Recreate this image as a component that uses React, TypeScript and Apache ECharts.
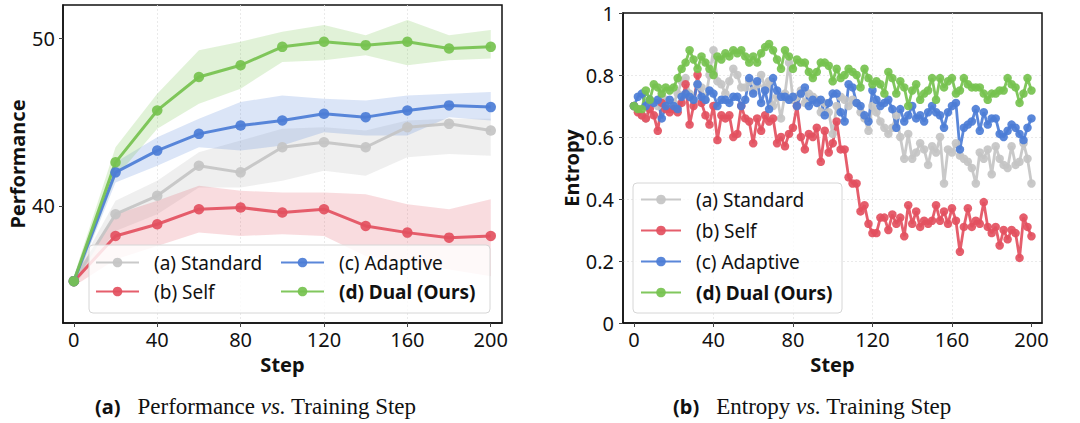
import React, { useEffect, useRef } from 'react';
import * as echarts from 'echarts';

// ---------- (a) Performance vs. Training Step ----------
const perfSteps = [0, 20, 40, 60, 80, 100, 120, 140, 160, 180, 200];
const perfTicksX = [0, 40, 80, 120, 160, 200];
const perfTicksY = [40, 50];

const stdPerf = [35.5, 39.5, 40.6, 42.4, 42.0, 43.5, 43.8, 43.5, 44.7, 44.9, 44.5];
const stdLo = [35.2, 38.5, 39.5, 41.1, 41.1, 41.5, 42.1, 41.8, 42.9, 43.1, 43.0];
const stdHi = [35.8, 40.3, 41.5, 43.2, 43.9, 44.6, 44.7, 44.5, 45.1, 45.2, 45.2];

const selfPerf = [35.5, 38.2, 38.9, 39.8, 39.9, 39.6, 39.8, 38.8, 38.4, 38.1, 38.2];
const selfLo = [35.2, 36.8, 37.6, 38.4, 38.2, 38.3, 38.2, 37.0, 36.6, 36.2, 35.8];
const selfHi = [35.8, 39.5, 40.3, 41.2, 40.9, 40.8, 40.8, 40.7, 40.1, 39.8, 40.4];

const adaPerf = [35.5, 42.0, 43.3, 44.3, 44.8, 45.1, 45.5, 45.3, 45.7, 46.0, 45.9];
const adaLo = [35.2, 41.4, 42.4, 43.5, 43.3, 43.6, 44.4, 44.2, 44.2, 45.3, 45.1];
const adaHi = [35.8, 42.6, 44.1, 45.2, 46.2, 46.6, 46.4, 46.3, 46.6, 46.7, 46.8];

const dualPerf = [35.5, 42.6, 45.7, 47.7, 48.4, 49.5, 49.8, 49.6, 49.8, 49.4, 49.5];
const dualLo = [35.2, 41.7, 44.6, 46.1, 47.0, 48.6, 48.7, 49.0, 48.4, 48.7, 48.8];
const dualHi = [35.8, 43.5, 46.7, 49.3, 49.8, 50.4, 50.8, 50.2, 51.1, 50.2, 50.5];

// ---------- (b) Entropy vs. Training Step ----------
const entSteps = Array.from({ length: 101 }, (_, i) => i * 2);
const entTicksX = [0, 40, 80, 120, 160, 200];

const stdEnt = [
  0.70, 0.69, 0.67, 0.66, 0.70, 0.71, 0.70, 0.73, 0.72, 0.70,
  0.71, 0.74, 0.78, 0.79, 0.74, 0.72, 0.77, 0.76, 0.72, 0.80,
  0.88, 0.78, 0.77, 0.74, 0.78, 0.82, 0.80, 0.76, 0.76, 0.78,
  0.75, 0.77, 0.80, 0.76, 0.78, 0.70, 0.73, 0.66, 0.74, 0.84,
  0.72, 0.73, 0.75, 0.71, 0.74, 0.73, 0.72, 0.68, 0.71, 0.68,
  0.61, 0.70, 0.73, 0.72, 0.70, 0.72, 0.71, 0.68, 0.66, 0.62,
  0.70, 0.68, 0.65, 0.63, 0.61, 0.63, 0.67, 0.60, 0.53, 0.61,
  0.53, 0.55, 0.58, 0.56, 0.51, 0.57, 0.55, 0.60, 0.45, 0.56,
  0.55, 0.58, 0.54, 0.53, 0.52, 0.50, 0.45, 0.55, 0.53, 0.56,
  0.48, 0.57, 0.53, 0.51, 0.50, 0.57, 0.51, 0.52, 0.58, 0.53,
  0.45,
];
const selfEnt = [
  0.70, 0.68, 0.67, 0.66, 0.69, 0.67, 0.62, 0.71, 0.69, 0.68,
  0.69, 0.68, 0.71, 0.77, 0.64, 0.70, 0.80, 0.71, 0.67, 0.64,
  0.70, 0.59, 0.67, 0.66, 0.67, 0.60, 0.61, 0.70, 0.66, 0.65,
  0.58, 0.66, 0.62, 0.67, 0.65, 0.66, 0.58, 0.60, 0.57, 0.61,
  0.63, 0.70, 0.60, 0.56, 0.61, 0.60, 0.63, 0.52, 0.62, 0.55,
  0.58, 0.65, 0.56, 0.56, 0.47, 0.45, 0.45, 0.36, 0.38, 0.32,
  0.29, 0.29, 0.34, 0.34, 0.30, 0.35, 0.32, 0.34, 0.28, 0.38,
  0.32, 0.36, 0.31, 0.33, 0.32, 0.33, 0.38, 0.33, 0.36, 0.32,
  0.37, 0.33, 0.23, 0.31, 0.37, 0.31, 0.33, 0.32, 0.39, 0.31,
  0.29, 0.31, 0.25, 0.30, 0.27, 0.30, 0.29, 0.21, 0.34, 0.31,
  0.28,
];
const adaEnt = [
  0.70, 0.73, 0.74, 0.70, 0.72, 0.71, 0.72, 0.66, 0.70, 0.72,
  0.70, 0.69, 0.73, 0.74, 0.73, 0.72, 0.77, 0.73, 0.72, 0.75,
  0.74, 0.70, 0.72, 0.72, 0.71, 0.73, 0.73, 0.70, 0.72, 0.79,
  0.74, 0.78, 0.71, 0.75, 0.69, 0.79, 0.75, 0.73, 0.73, 0.72,
  0.73, 0.70, 0.74, 0.76, 0.70, 0.72, 0.71, 0.72, 0.67, 0.71,
  0.74, 0.74, 0.68, 0.65, 0.77, 0.76, 0.71, 0.70, 0.67, 0.65,
  0.75, 0.72, 0.70, 0.71, 0.72, 0.69, 0.63, 0.69, 0.65, 0.67,
  0.70, 0.66, 0.67, 0.65, 0.68, 0.70, 0.68, 0.67, 0.63, 0.68,
  0.70, 0.71, 0.56, 0.63, 0.64, 0.65, 0.69, 0.62, 0.68, 0.64,
  0.66, 0.66, 0.61, 0.60, 0.62, 0.64, 0.63, 0.61, 0.59, 0.63,
  0.66,
];
const dualEnt = [
  0.70, 0.69, 0.69, 0.75, 0.72, 0.77, 0.76, 0.74, 0.76, 0.75,
  0.76, 0.79, 0.82, 0.84, 0.88, 0.85, 0.82, 0.86, 0.84, 0.82,
  0.80, 0.86, 0.85, 0.87, 0.86, 0.88, 0.87, 0.88, 0.86, 0.84,
  0.86, 0.84, 0.87, 0.89, 0.90, 0.88, 0.85, 0.82, 0.88, 0.86,
  0.82, 0.85, 0.84, 0.84, 0.81, 0.79, 0.81, 0.84, 0.84, 0.83,
  0.78, 0.82, 0.79, 0.80, 0.82, 0.81, 0.80, 0.76, 0.82, 0.79,
  0.77, 0.78, 0.77, 0.74, 0.81, 0.79, 0.74, 0.78, 0.76, 0.70,
  0.75, 0.77, 0.72, 0.74, 0.75, 0.79, 0.72, 0.79, 0.76, 0.78,
  0.79, 0.74, 0.75, 0.79, 0.77, 0.76, 0.76, 0.76, 0.74, 0.72,
  0.74, 0.74, 0.75, 0.75, 0.79, 0.77, 0.76, 0.71, 0.74, 0.79,
  0.75,
];

const NAMES = ['(a) Standard', '(b) Self', '(c) Adaptive', '(d) Dual (Ours)'];
const COLORS = ['#c4c4c4', '#e3505f', '#4c7dd6', '#76c24f'];
const BANDS = ['rgba(196,196,196,0.28)', 'rgba(227,80,95,0.2)', 'rgba(76,125,214,0.2)', 'rgba(118,194,79,0.22)'];

const FONT = '"Noto Sans", sans-serif';
const SERIF = '"Liberation Serif", serif';

function bandSeries(lo: number[], hi: number[], fill: string) {
  const data = perfSteps.map((s, i) => [s, lo[i], hi[i]]);
  return {
    type: 'custom',
    xAxisIndex: 0,
    yAxisIndex: 0,
    z: 1,
    silent: true,
    encode: { x: 0, y: [1, 2] },
    data,
    renderItem: (params: any, api: any) => {
      if (params.dataIndex !== 0) return null;
      const upper = data.map((d) => api.coord([d[0], d[2]]));
      const lower = data.map((d) => api.coord([d[0], d[1]])).reverse();
      return {
        type: 'polygon',
        shape: { points: upper.concat(lower) },
        style: { fill, stroke: 'none' },
      };
    },
  };
}

function lineSeries(name: string, color: string, xs: number[], ys: number[], idx: number, size: number, width: number) {
  return {
    type: 'line',
    name,
    xAxisIndex: idx,
    yAxisIndex: idx,
    data: xs.map((s, i) => [s, ys[i]]),
    symbol: 'circle',
    symbolSize: size,
    showSymbol: true,
    z: 3,
    lineStyle: { color, width, opacity: 0.92 },
    itemStyle: { color, opacity: 0.92 },
    emphasis: { disabled: true },
  };
}

function legendItem(name: string, left: number, centerY: number, itemWidth: number) {
  return {
    data: [name === NAMES[3] ? { name, textStyle: { fontWeight: 'bold' } } : { name }],
    left,
    top: centerY - 10,
    padding: 0,
    itemWidth,
    itemHeight: 12,
    selectedMode: false,
    z: 60,
    textStyle: { fontSize: 19, fontFamily: FONT, color: '#111', padding: [0, 0, 0, 10] },
  };
}

const axisCommon = {
  axisLine: { show: true, onZero: false, lineStyle: { color: '#111', width: 1.5 } },
  axisTick: { show: true, length: 4, lineStyle: { color: '#444', width: 1 } },
  axisLabel: { color: '#111', fontSize: 20, fontFamily: FONT },
  splitLine: {
    show: true,
    showMinLine: false,
    showMaxLine: false,
    lineStyle: { color: '#e4e4e4', width: 0.8, type: [2, 2] },
  },
  nameLocation: 'middle',
  nameTextStyle: { color: '#111', fontSize: 20, fontWeight: 'bold', fontFamily: FONT },
};

const captionRich = {
  b: { fontFamily: FONT, fontWeight: 'bold', fontSize: 20, fill: '#111' },
  g: { width: 17 },
  r: { fontFamily: SERIF, fontSize: 23, fill: '#111' },
  i: { fontFamily: SERIF, fontStyle: 'italic', fontSize: 23, fill: '#111' },
};

const option: any = {
  animation: false,
  backgroundColor: '#ffffff',
  grid: [
    { left: 63, top: 5, width: 439, height: 318, show: true, borderColor: '#111', borderWidth: 1.5, backgroundColor: 'transparent' },
    { left: 623, top: 13, width: 419, height: 310, show: true, borderColor: '#111', borderWidth: 1.5, backgroundColor: 'transparent' },
  ],
  xAxis: [
    {
      ...axisCommon,
      type: 'value',
      gridIndex: 0,
      min: -5.2,
      max: 205.4,
      name: 'Step',
      nameGap: 31,
      axisTick: { ...axisCommon.axisTick, customValues: perfTicksX },
      axisLabel: { ...axisCommon.axisLabel, customValues: perfTicksX, margin: 6 },
    },
    {
      ...axisCommon,
      type: 'value',
      gridIndex: 1,
      min: -5.5,
      max: 205.3,
      name: 'Step',
      nameGap: 31,
      axisTick: { ...axisCommon.axisTick, customValues: entTicksX },
      axisLabel: { ...axisCommon.axisLabel, customValues: entTicksX, margin: 6 },
    },
  ],
  yAxis: [
    {
      ...axisCommon,
      type: 'value',
      gridIndex: 0,
      min: 33,
      max: 52,
      name: 'Performance',
      nameGap: 36,
      axisTick: { ...axisCommon.axisTick, customValues: perfTicksY },
      axisLabel: { ...axisCommon.axisLabel, customValues: perfTicksY, margin: 8 },
    },
    {
      ...axisCommon,
      type: 'value',
      gridIndex: 1,
      min: 0,
      max: 1,
      interval: 0.2,
      name: 'Entropy',
      nameGap: 40,
      axisLabel: { ...axisCommon.axisLabel, margin: 9 },
    },
  ],
  legend: [
    legendItem(NAMES[0], 95, 263, 43),
    legendItem(NAMES[2], 280, 263, 43),
    legendItem(NAMES[1], 95, 292, 43),
    legendItem(NAMES[3], 280, 292, 43),
    legendItem(NAMES[0], 640, 200, 40),
    legendItem(NAMES[1], 640, 231, 40),
    legendItem(NAMES[2], 640, 262, 40),
    legendItem(NAMES[3], 640, 293, 40),
  ],
  graphic: [
    {
      type: 'rect',
      z: 50,
      silent: true,
      shape: { x: 89, y: 245, width: 401, height: 68, r: 4 },
      style: { fill: 'rgba(255,255,255,0.82)', stroke: '#d6d6d6', lineWidth: 1 },
    },
    {
      type: 'rect',
      z: 50,
      silent: true,
      shape: { x: 633, y: 183, width: 209, height: 130, r: 4 },
      style: { fill: 'rgba(255,255,255,0.82)', stroke: '#d6d6d6', lineWidth: 1 },
    },
    {
      type: 'text',
      left: 95,
      top: 395,
      z: 50,
      style: {
        text: '{b|(a)}{g|}{r|Performance }{i|vs.}{r| Training Step}',
        rich: captionRich,
      },
    },
    {
      type: 'text',
      left: 673,
      top: 395,
      z: 50,
      style: {
        text: '{b|(b)}{g|}{r|Entropy }{i|vs.}{r| Training Step}',
        rich: captionRich,
      },
    },
  ],
  series: [
    bandSeries(stdLo, stdHi, BANDS[0]),
    bandSeries(selfLo, selfHi, BANDS[1]),
    bandSeries(adaLo, adaHi, BANDS[2]),
    bandSeries(dualLo, dualHi, BANDS[3]),
    lineSeries(NAMES[0], COLORS[0], perfSteps, stdPerf, 0, 10.5, 3),
    lineSeries(NAMES[1], COLORS[1], perfSteps, selfPerf, 0, 10.5, 3),
    lineSeries(NAMES[2], COLORS[2], perfSteps, adaPerf, 0, 10.5, 3),
    lineSeries(NAMES[3], COLORS[3], perfSteps, dualPerf, 0, 10.5, 3),
    lineSeries(NAMES[0], COLORS[0], entSteps, stdEnt, 1, 8.5, 2.8),
    lineSeries(NAMES[1], COLORS[1], entSteps, selfEnt, 1, 8.5, 2.8),
    lineSeries(NAMES[2], COLORS[2], entSteps, adaEnt, 1, 8.5, 2.8),
    lineSeries(NAMES[3], COLORS[3], entSteps, dualEnt, 1, 8.5, 2.8),
  ],
};

export default function App() {
  const ref = useRef<HTMLDivElement>(null);
  useEffect(() => {
    if (!ref.current) return;
    const chart = echarts.init(ref.current, null, { renderer: 'svg' });
    chart.setOption(option);
    return () => chart.dispose();
  }, []);
  return (
    <div
      ref={ref}
      style={{ position: 'fixed', left: 0, top: 0, width: 1080, height: 423, background: '#fff' }}
    />
  );
}
